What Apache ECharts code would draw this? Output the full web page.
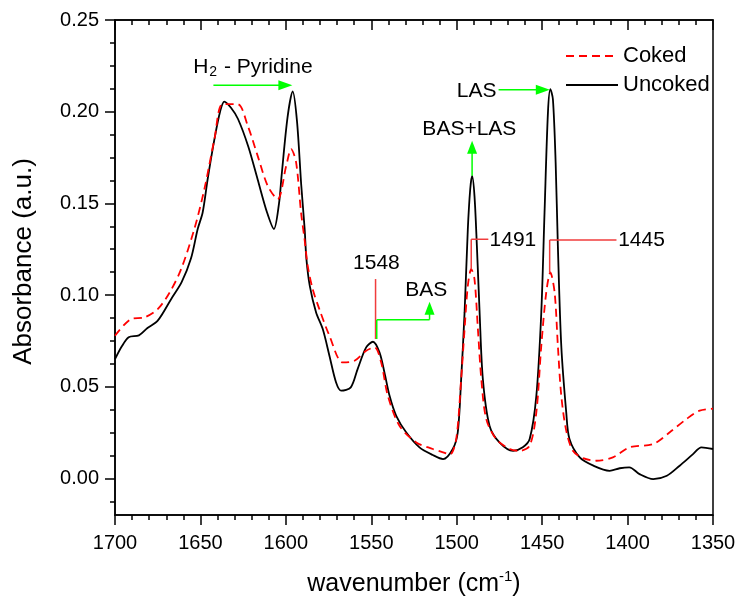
<!DOCTYPE html>
<html>
<head>
<meta charset="utf-8">
<script src="https://cdn.jsdelivr.net/npm/echarts@6/dist/echarts.min.js"></script>
<style>
html,body{margin:0;padding:0;background:#fff;}
#chart{width:739px;height:596px;}
</style>
</head>
<body>
<div id="chart"></div>
<script>
// ---- data ----
var seriesNames = ['Uncoked', 'Coked'];
var wnUncoked = [1700,1696,1692,1686,1681,1675,1667,1661,1655.5,1651.6,1648.7,1645.8,1641.8,1638.5,1636,1632,1628,1622,1616.5,1611,1607,1604,1602.5,1599,1596,1593.5,1591,1589,1588,1586,1582.3,1578.4,1574.5,1570.6,1567.6,1562,1558,1553,1549,1545.2,1542.3,1539.3,1535.4,1529.6,1521.8,1514,1508,1502.3,1499.4,1497.4,1495.4,1493.5,1492.1,1491,1489.6,1488.2,1486.6,1484.7,1480.8,1475,1467,1461.3,1457.3,1453.4,1450.5,1448.6,1446.6,1445.2,1443.7,1442.1,1440.8,1438.8,1435.9,1434,1428,1420,1410.5,1404.6,1399,1393,1385,1377,1369.5,1361.7,1356.8,1350];
var absUncoked = [0.065,0.072,0.077,0.078,0.082,0.086,0.098,0.107,0.120,0.136,0.145,0.163,0.185,0.200,0.2055,0.202,0.196,0.181,0.163,0.145,0.136,0.150,0.165,0.197,0.211,0.195,0.160,0.136,0.120,0.105,0.0905,0.0814,0.0669,0.0523,0.0478,0.0496,0.0596,0.0714,0.0745,0.0687,0.0578,0.045,0.0341,0.0251,0.0169,0.0127,0.0105,0.016,0.025,0.0541,0.0905,0.1359,0.1577,0.165,0.1541,0.1268,0.0905,0.0541,0.0287,0.0196,0.015,0.0169,0.0214,0.045,0.0905,0.145,0.1996,0.2123,0.2068,0.1723,0.1268,0.0723,0.036,0.0214,0.0114,0.0069,0.0041,0.0055,0.006,0.0023,-0.0004,0.0014,0.0069,0.0132,0.0169,0.016];
var wnCoked = [1700,1690.6,1682.8,1675,1668,1661.3,1653.6,1647.7,1641.8,1637,1628.2,1622.3,1616.5,1610.6,1604.8,1599.8,1596.9,1594,1591.1,1589,1587.2,1584.3,1580.4,1574.5,1566.7,1559.8,1553,1548,1544.2,1540.3,1533.5,1523.7,1514,1508,1504,1500.3,1497.4,1495.4,1493.5,1491.5,1489.6,1487.6,1485.6,1482.7,1476.9,1469,1463.2,1457.3,1453.4,1450.5,1447.6,1445.2,1442.7,1440.8,1438.8,1435.9,1432,1426,1418.3,1408.6,1398.8,1385,1375.3,1365.6,1357.8,1350];
var absCoked = [0.0778,0.0869,0.0878,0.0923,0.1014,0.1141,0.1359,0.1577,0.185,0.2041,0.2041,0.1923,0.1759,0.1595,0.1523,0.1704,0.1796,0.1723,0.145,0.130,0.1159,0.1032,0.0923,0.0778,0.0632,0.0641,0.0696,0.0714,0.0632,0.045,0.0287,0.0196,0.016,0.0142,0.013,0.0214,0.0541,0.0814,0.105,0.1141,0.1087,0.0814,0.0541,0.0323,0.0214,0.016,0.015,0.0178,0.036,0.0723,0.1014,0.1123,0.1014,0.0723,0.045,0.026,0.015,0.011,0.0096,0.0114,0.0169,0.0187,0.0251,0.0323,0.0369,0.038];
var yTickLabels = [0, 0.05, 0.10, 0.15, 0.20, 0.25];
var yMinorTicks = [-0.0125, 0.0125, 0.025, 0.0375, 0.0625, 0.075, 0.0875, 0.1125, 0.125, 0.1375, 0.1625, 0.175, 0.1875, 0.2125, 0.225, 0.2375];
var xTickLabels = [1700, 1650, 1600, 1550, 1500, 1450, 1400, 1350];
// annotation anchors (data coordinates)
var peak1548 = 1548, peak1491 = 1491, peak1445 = 1445;

function zip(a, b) { return a.map(function (v, i) { return [v, b[i]]; }); }

var FONT = '"Liberation Sans", Arial, sans-serif';
var chart = echarts.init(document.getElementById('chart'), null, {renderer: 'canvas'});

var option = {
  animation: false,
  backgroundColor: '#fff',
  grid: {left: 115, top: 20, width: 598, height: 495, outerBoundsMode: 'none', containLabel: false,
    show: true, borderColor: '#000', borderWidth: 1.5, backgroundColor: 'transparent'},
  legend: {
    orient: 'vertical', left: 560, top: 40, itemWidth: 52, itemHeight: 14, itemGap: 7,
    data: ['Coked', 'Uncoked'],
    itemStyle: {opacity: 0},
    textStyle: {fontFamily: FONT, fontSize: 22, color: '#000'}
  },
  xAxis: [{
    type: 'value', min: 1350, max: 1700, interval: 50, inverse: true, position: 'bottom',
    axisLine: {show: true, onZero: false, lineStyle: {color: '#000', width: 1.5}},
    axisTick: {show: true, inside: false, length: 10, lineStyle: {color: '#000', width: 1.5}},
    minorTick: {show: true, splitNumber: 5, length: 5, lineStyle: {color: '#000', width: 1.5}},
    axisLabel: {fontFamily: FONT, fontSize: 20, color: '#000', margin: 18, customValues: xTickLabels,
      formatter: function (v) { return String(v); }},
    splitLine: {show: false},
    name: '{a|wavenumber (cm}{s|-1}{a|)}', nameLocation: 'middle', nameGap: 54,
    nameTextStyle: {rich: {a: {fontFamily: FONT, fontSize: 25, color: '#000', lineHeight: 30}, s: {fontFamily: FONT, fontSize: 15, color: '#000', padding: [0, 0, 14, 0]}}}
  }, {
    type: 'value', min: 1350, max: 1700, interval: 50, inverse: true, position: 'top',
    axisLine: {show: true, onZero: false, lineStyle: {color: '#000', width: 1.5}},
    axisTick: {show: true, inside: true, length: 10, lineStyle: {color: '#000', width: 1.5}},
    minorTick: {show: true, splitNumber: 5, length: 5, lineStyle: {color: '#000', width: 1.5}},
    axisLabel: {show: false}, splitLine: {show: false}
  }],
  yAxis: [{
    type: 'value', min: -0.02, max: 0.25, position: 'left',
    axisLine: {show: true, onZero: false, lineStyle: {color: '#000', width: 1.5}},
    axisTick: {show: true, inside: false, length: 10, customValues: yTickLabels, lineStyle: {color: '#000', width: 1.5}},
    axisLabel: {fontFamily: FONT, fontSize: 20, color: '#000', margin: 16, customValues: yTickLabels,
      formatter: function (v) { return v.toFixed(2); }},
    splitLine: {show: false},
    name: 'Absorbance (a.u.)', nameLocation: 'middle', nameGap: 78,
    nameTextStyle: {fontFamily: FONT, fontSize: 26, color: '#000', padding: [0, 0, 0, 12]}
  }, {
    type: 'value', min: -0.02, max: 0.25, position: 'left',
    axisLine: {show: false},
    axisTick: {show: true, inside: false, length: 5, customValues: yMinorTicks, lineStyle: {color: '#000', width: 1.5}},
    axisLabel: {show: false}, splitLine: {show: false}
  }],
  series: [{
    name: 'Uncoked', type: 'line', xAxisIndex: 0, yAxisIndex: 0,
    data: zip(wnUncoked, absUncoked), showSymbol: false, symbol: 'none', smooth: 0.3,
    lineStyle: {color: '#000', width: 1.8}, itemStyle: {color: '#000'}
  }, {
    name: 'Coked', type: 'line', xAxisIndex: 0, yAxisIndex: 0,
    data: zip(wnCoked, absCoked), showSymbol: false, symbol: 'none', smooth: 0.3,
    lineStyle: {color: '#ff0000', width: 1.8, type: [8, 5]}, itemStyle: {color: '#ff0000'}
  }]
};
chart.setOption(option);

// ---- annotations anchored in data space ----
function P(w, v) { return chart.convertToPixel({xAxisIndex: 0, yAxisIndex: 0}, [w, v]); }
var GREEN = '#00ff00', RED = '#f03c3c';
var AFONT = '21px ' + FONT;
function seg(a, b, color) {
  return {type: 'line', shape: {x1: a[0], y1: a[1], x2: b[0], y2: b[1]}, style: {stroke: color, lineWidth: 1.5}, z: 100};
}
function headRight(t) {
  return {type: 'polygon', shape: {points: [[t[0], t[1]], [t[0] - 14, t[1] - 5], [t[0] - 14, t[1] + 5]]}, style: {fill: GREEN}, z: 100};
}
function headUp(t) {
  return {type: 'polygon', shape: {points: [[t[0], t[1]], [t[0] - 5, t[1] + 13], [t[0] + 5, t[1] + 13]]}, style: {fill: GREEN}, z: 100};
}
function txt(p, s, align) {
  return {type: 'text', x: p[0], y: p[1], style: {text: s, font: AFONT, fill: '#000', align: align || 'center', verticalAlign: 'middle'}, z: 100};
}
var g = [];
// H2 - Pyridine
var a1 = P(1642.4, 0.2144), a2 = P(1596.2, 0.2144);
g.push(seg(a1, [a2[0] - 12, a2[1]], GREEN), headRight(a2));
var tH = P(1619.3, 0.2245);
g.push({type: 'text', x: tH[0], y: tH[1], z: 100, style: {
  text: '{a|H}{s|2}{a| - Pyridine}', align: 'center', verticalAlign: 'middle',
  rich: {a: {font: AFONT, fill: '#000', lineHeight: 26}, s: {font: '14px ' + FONT, fill: '#000', padding: [11, 1, 0, 1]}}
}});
// 1548 / BAS
var r1 = P(peak1548 - 0.5, 0.1087), r2 = P(peak1548 - 0.5, 0.0760);
g.push(seg(r1, r2, RED));
g.push(txt(P(peak1548 - 1, 0.1172), '1548'));
var b1 = P(peak1548 - 1.2, 0.0760), b2 = P(peak1548 - 1.2, 0.0865), b3 = P(1515.9, 0.0865), b4 = P(1515.9, 0.0963);
g.push(seg(b1, b2, GREEN), seg(b2, b3, GREEN), seg(b3, [b4[0], b4[1] + 11], GREEN), headUp(b4));
g.push(txt(P(1517.8, 0.1025), 'BAS'));
// 1491
var c1 = P(1491.5, 0.114), c2 = P(1491.5, 0.1304), c3 = P(1481.5, 0.1304);
g.push(seg(c1, c2, RED), seg(c2, c3, RED));
g.push(txt(P(1480.8, 0.1300), '1491', 'left'));
// 1445
var d1 = P(1445.6, 0.1122), d2 = P(1445.6, 0.1300), d3 = P(1406.5, 0.1300);
g.push(seg(d1, d2, RED), seg(d2, d3, RED));
g.push(txt(P(1405.5, 0.1300), '1445', 'left'));
// BAS+LAS
var e1 = P(peak1491, 0.165), e2 = P(peak1491, 0.1841);
g.push(seg(e1, [e2[0], e2[1] + 11], GREEN), headUp(e2));
g.push(txt(P(1492.6, 0.1904), 'BAS+LAS'));
// LAS
var f1 = P(1475.5, 0.2119), f2 = P(peak1445 + 0.5, 0.2119);
g.push(seg(f1, [f2[0] - 12, f2[1]], GREEN), headRight(f2));
g.push(txt(P(1488.3, 0.2114), 'LAS'));

chart.setOption({graphic: g});
</script>
</body>
</html>
